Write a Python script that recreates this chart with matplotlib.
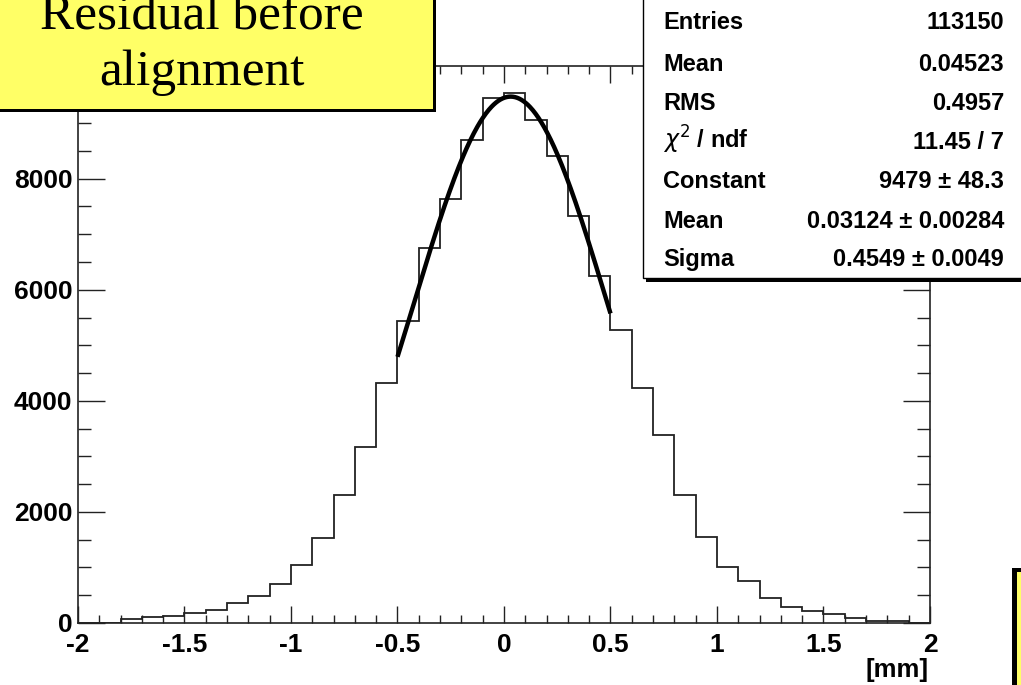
import matplotlib
matplotlib.use("Agg")
import matplotlib.pyplot as plt
import numpy as np
from matplotlib.patches import Rectangle

# residual histogram, 40 bins of 0.1 mm from -2 to 2
bin_edges = np.linspace(-2.0, 2.0, 41)
counts = [0, 0, 72, 102, 126, 174, 234, 360, 492, 709,
          1051, 1526, 2301, 3177, 4319, 5430, 6752, 7635, 8691, 9455,
          9545, 9064, 8403, 7334, 6241, 5270, 4235, 3388, 2312, 1550,
          1015, 751, 456, 294, 216, 162, 84, 42, 42, 0]

# gaussian fit result
fit_const = 9479
fit_mean = 0.03124
fit_sigma = 0.4549
fit_range = (-0.5, 0.5)

stat_labels = ["Entries", "Mean", "RMS", r"$\chi^{2}$ / ndf", "Constant", "Mean", "Sigma"]
stat_values = ["113150", "0.04523", "0.4957", "11.45 / 7",
               "9479 \u00b1 48.3", "0.03124 \u00b1 0.00284", "0.4549 \u00b1 0.0049"]

W, H = 1021, 685
plt.rcParams['font.family'] = ['Liberation Sans', 'DejaVu Sans']
plt.rcParams['mathtext.fontset'] = 'dejavusans'


def fx(x):
    return x / W


def fy(y):
    return 1 - y / H


fig = plt.figure(figsize=(W / 100, H / 100), dpi=100)
ax = fig.add_axes([fx(78), fy(623), (930 - 78) / W, (623 - 66) / H])

ax.stairs(counts, bin_edges, color="#222222", lw=1.3)

xs = np.linspace(fit_range[0], fit_range[1], 300)
ys = fit_const * np.exp(-0.5 * ((xs - fit_mean) / fit_sigma) ** 2)
ax.plot(xs, ys, color="black", lw=3.2, solid_capstyle="butt")

ax.set_xlim(-2, 2)
ax.set_ylim(0, 10030)
ax.set_xticks(np.arange(-2, 2.01, 0.5))
ax.set_xticks(np.arange(-2, 2.01, 0.1), minor=True)
ax.set_xticklabels(["-2", "-1.5", "-1", "-0.5", "0", "0.5", "1", "1.5", "2"])
ax.set_yticks([0, 2000, 4000, 6000, 8000])
ax.set_yticks(np.arange(0, 10001, 500), minor=True)

for s in ax.spines.values():
    s.set_linewidth(1.2)
    s.set_color("#222222")
ax.tick_params(axis="both", which="both", direction="in", top=True, right=True,
               width=1.0, color="#222222")
ax.tick_params(axis="x", which="major", length=12, pad=7)
ax.tick_params(axis="x", which="minor", length=6)
ax.tick_params(axis="y", which="major", length=19.5, pad=4)
ax.tick_params(axis="y", which="minor", length=9.5)
for lab in ax.get_xticklabels() + ax.get_yticklabels():
    lab.set_fontsize(19)
    lab.set_fontweight("bold")

fig.text(fx(929), fy(677), "[mm]", ha="right", va="baseline",
         fontsize=18.5, fontweight="bold")

# yellow title box with shadow
fig.add_artist(Rectangle((fx(-10), fy(112)), fx(446), 112 / H + 0.02,
                         transform=fig.transFigure, facecolor="black", edgecolor="none", zorder=5))
fig.add_artist(Rectangle((fx(-10), fy(109)), fx(443), 109 / H + 0.02,
                         transform=fig.transFigure, facecolor="#ffff66", edgecolor="none", zorder=6))
fig.text(fx(202), fy(29), "Residual before", ha="center", va="baseline",
         fontsize=37, family="Liberation Serif", zorder=7)
fig.text(fx(202), fy(85), "alignment", ha="center", va="baseline",
         fontsize=37, family="Liberation Serif", zorder=7)

# second yellow box, bottom right corner
fig.add_artist(Rectangle((fx(1012), fy(700)), fx(30), 132 / H,
                         transform=fig.transFigure, facecolor="black", edgecolor="none", zorder=5))
fig.add_artist(Rectangle((fx(1017), fy(700)), fx(30), 128 / H,
                         transform=fig.transFigure, facecolor="#ffff66", edgecolor="none", zorder=6))

# stats box with shadow
fig.add_artist(Rectangle((fx(646), fy(282)), fx(400), 282 / H + 0.02,
                         transform=fig.transFigure, facecolor="black", edgecolor="none", zorder=5))
fig.add_artist(Rectangle((fx(643), fy(278)), fx(400), 278 / H + 0.02,
                         transform=fig.transFigure, facecolor="white", edgecolor="black",
                         lw=1.0, zorder=6))

row_baselines = [29, 71, 110, 149, 188, 228, 266]
for lab, val, yb in zip(stat_labels, stat_values, row_baselines):
    fig.text(fx(663), fy(yb), lab, ha="left", va="baseline", fontsize=17,
             fontweight="bold", zorder=7)
    fig.text(fx(1004), fy(yb), val, ha="right", va="baseline", fontsize=17,
             fontweight="bold", zorder=7)

fig.savefig("out.png", dpi=100)
